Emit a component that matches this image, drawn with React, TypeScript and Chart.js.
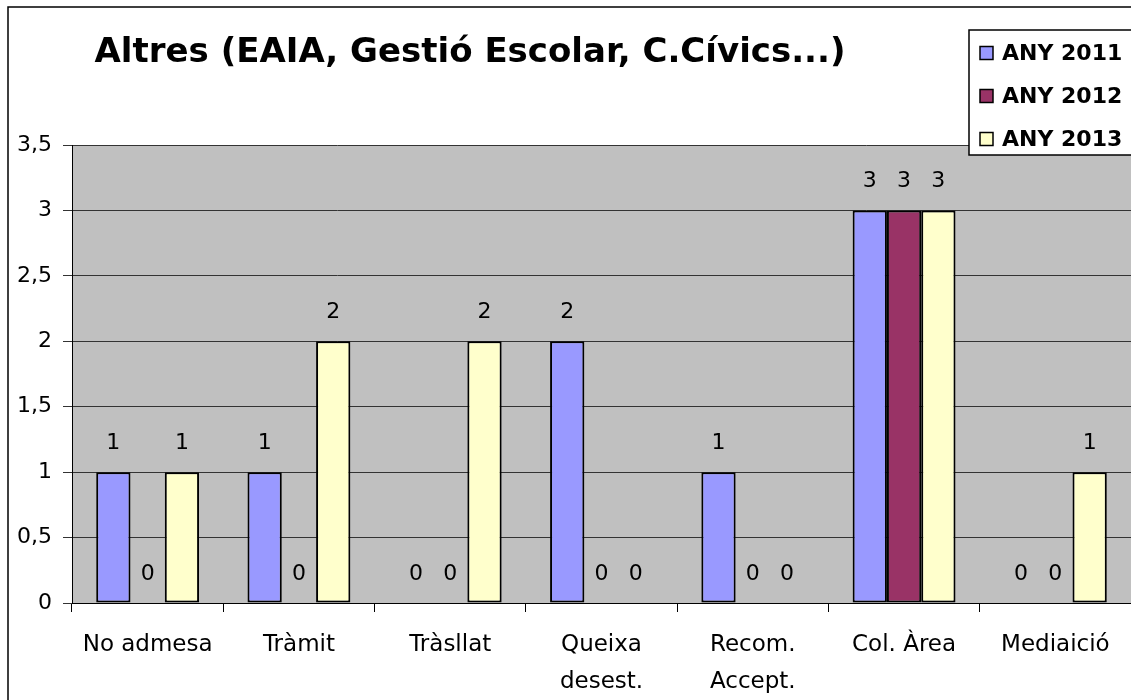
import React, { useEffect, useRef } from "react";
import { Chart, registerables } from "chart.js";

Chart.register(...registerables);

const chartTitle = "Altres (EAIA, Gestió Escolar, C.Cívics...)";
const categories: string[][] = [
  ["No admesa"],
  ["Tràmit"],
  ["Tràsllat"],
  ["Queixa", "desest."],
  ["Recom.", "Accept."],
  ["Col. Àrea"],
  ["Mediaició"],
];
const seriesNames = ["ANY 2011", "ANY 2012", "ANY 2013"];
const any2011 = [1, 1, 0, 2, 1, 3, 0];
const any2012 = [0, 0, 0, 0, 0, 3, 0];
const any2013 = [1, 2, 2, 0, 0, 3, 1];
const seriesColors = ["#9999FF", "#993366", "#FFFFCC"];
const yMax = 3.5;
const yStep = 0.5;

const FONT = "Tahoma, 'DejaVu Sans', sans-serif";

const decorPlugin = {
  id: "decor",
  beforeDraw(chart: any) {
    const { ctx, chartArea, width, height } = chart;
    ctx.save();
    ctx.fillStyle = "#ffffff";
    ctx.fillRect(0, 0, width, height);
    ctx.strokeStyle = "#000";
    ctx.lineWidth = 1.5;
    ctx.beginPath();
    ctx.moveTo(8, height + 5);
    ctx.lineTo(8, 7);
    ctx.lineTo(width + 5, 7);
    ctx.stroke();
    ctx.fillStyle = "#C0C0C0";
    ctx.fillRect(chartArea.left, chartArea.top, chartArea.right - chartArea.left, chartArea.bottom - chartArea.top);
    ctx.restore();
  },
  afterDatasetsDraw(chart: any) {
    const { ctx } = chart;
    ctx.save();
    ctx.fillStyle = "#000";
    ctx.font = `22px ${FONT}`;
    ctx.textAlign = "center";
    ctx.textBaseline = "middle";
    chart.data.datasets.forEach((ds: any, di: number) => {
      const meta = chart.getDatasetMeta(di);
      meta.data.forEach((bar: any, i: number) => {
        const v = ds.data[i];
        ctx.fillText(String(v).replace(".", ","), bar.x, bar.y - 29);
      });
    });
    ctx.restore();
  },
  afterDraw(chart: any) {
    const { ctx, width } = chart;
    ctx.save();
    // title
    ctx.fillStyle = "#000";
    ctx.font = `bold 34px ${FONT}`;
    ctx.textAlign = "center";
    ctx.textBaseline = "middle";
    ctx.fillText(chartTitle, 470, 53);
    // legend
    const lx = 969, ly = 30, lh = 125;
    ctx.fillStyle = "#fff";
    ctx.fillRect(lx, ly, width - lx + 5, lh);
    ctx.strokeStyle = "#000";
    ctx.lineWidth = 1.5;
    ctx.strokeRect(lx, ly, width - lx + 5, lh);
    ctx.font = `bold 22px ${FONT}`;
    ctx.textAlign = "left";
    chart.data.datasets.forEach((ds: any, i: number) => {
      const cy = 53 + i * 43;
      ctx.fillStyle = ds.backgroundColor;
      ctx.fillRect(980, cy - 6.5, 13, 13);
      ctx.lineWidth = 1.5;
      ctx.strokeStyle = "#000";
      ctx.strokeRect(980, cy - 6.5, 13, 13);
      ctx.fillStyle = "#000";
      ctx.fillText(ds.label, 1002, cy + 1);
    });
    ctx.restore();
  },
};

export default function App() {
  const ref = useRef<HTMLCanvasElement>(null);
  useEffect(() => {
    if (!ref.current) return;
    const seriesData = [any2011, any2012, any2013];
    const chart = new Chart(ref.current, {
      type: "bar",
      data: {
        labels: categories,
        datasets: seriesNames.map((name, i) => ({
          label: name,
          data: seriesData[i],
          backgroundColor: seriesColors[i],
          borderColor: "#000",
          borderWidth: 2,
          borderSkipped: false,
          categoryPercentage: 0.68,
          barPercentage: 1,
        })),
      },
      options: {
        responsive: false,
        animation: false,
        layout: { padding: { top: 145, left: 0, right: 0, bottom: 0 } },
        plugins: { legend: { display: false }, title: { display: false }, tooltip: { enabled: false } },
        scales: {
          x: {
            grid: { offset: true, drawOnChartArea: false, drawTicks: true, tickLength: 9, color: "#000" },
            border: { display: true, color: "#000", width: 1 },
            ticks: { color: "#000", font: { family: FONT, size: 23, lineHeight: 1.6 }, padding: 15, maxRotation: 0, autoSkip: false },
            afterFit(scale: any) {
              scale.height = 97;
            },
          },
          y: {
            min: 0,
            max: yMax,
            grid: { color: "#333", tickLength: 9, drawTicks: true },
            border: { display: true, color: "#000", width: 1 },
            ticks: {
              stepSize: yStep,
              color: "#000",
              padding: 11,
              font: { family: FONT, size: 22 },
              callback: (v: any) => String(v).replace(".", ","),
            },
            afterFit(scale: any) {
              scale.width = 72;
            },
          },
        },
      },
      plugins: [decorPlugin],
    });
    return () => chart.destroy();
  }, []);
  return (
    <div style={{ position: "fixed", left: 0, top: 0, width: 1131, height: 700, overflow: "hidden" }}>
      <canvas ref={ref} width={1131} height={700} />
    </div>
  );
}
